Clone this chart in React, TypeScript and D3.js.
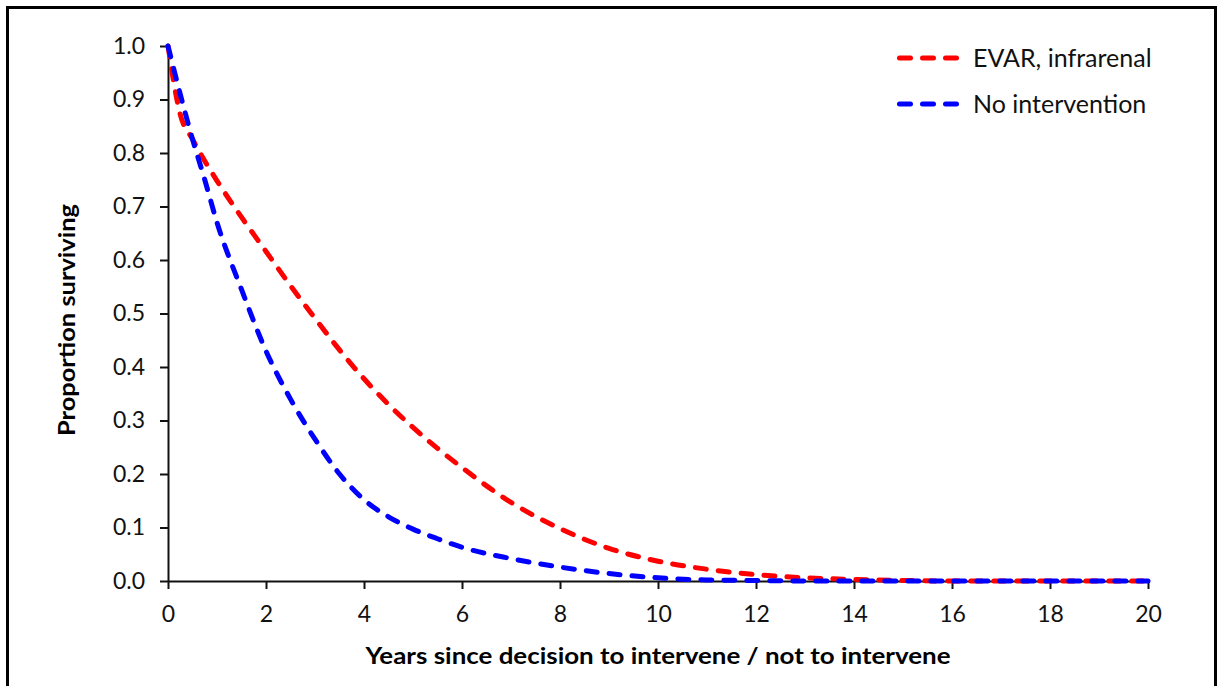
import { useEffect, useRef } from "react";
import * as d3 from "d3";

const years = [0, 0.25, 0.5, 0.75, 1, 1.5, 2, 2.5, 3, 3.5, 4, 4.5, 5, 5.5, 6, 7, 8, 9, 10, 11, 12, 13, 14, 15, 16, 17, 18, 19, 20];

const evarSurvival = [
  1.0, 0.872, 0.826, 0.785, 0.748, 0.68, 0.616, 0.552, 0.491, 0.432, 0.378, 0.33, 0.287, 0.248, 0.212,
  0.147, 0.098, 0.061, 0.037, 0.022, 0.012, 0.006, 0.003, 0.001, 0, 0, 0, 0, 0,
];

const noInterventionSurvival = [
  1.0, 0.91, 0.826, 0.75, 0.67, 0.545, 0.43, 0.34, 0.265, 0.2, 0.152, 0.12, 0.097, 0.079, 0.063,
  0.042, 0.026, 0.014, 0.006, 0.002, 0.001, 0, 0, 0, 0, 0, 0, 0, 0,
];

const seriesNames = ["EVAR, infrarenal", "No intervention"];
const seriesColors = ["#ff0000", "#0000ff"];
const yTicks = [0, 0.1, 0.2, 0.3, 0.4, 0.5, 0.6, 0.7, 0.8, 0.9, 1.0];
const xTicks = [0, 2, 4, 6, 8, 10, 12, 14, 16, 18, 20];

const FONT = "Lato, 'Open Sans', sans-serif";

export default function App() {
  const svgRef = useRef<SVGSVGElement | null>(null);

  useEffect(() => {
    const svgElement = svgRef.current;
    if (!svgElement) return;

    const width = 1219;
    const height = 686;
    const margin = { top: 46, right: 71, bottom: 105, left: 168 };

    const x = d3.scaleLinear().domain([0, 20]).range([margin.left, width - margin.right]);
    const y = d3.scaleLinear().domain([0, 1]).range([height - margin.bottom, margin.top]);

    const svg = d3.select(svgElement);
    svg.selectAll("*").remove();
    svg.attr("viewBox", `0 0 ${width} ${height}`);

    // chart frame (bottom edge sits below the visible area)
    svg
      .append("rect")
      .attr("x", 7.5)
      .attr("y", 7.5)
      .attr("width", 1208)
      .attr("height", 720)
      .attr("fill", "#fff")
      .attr("stroke", "#000")
      .attr("stroke-width", 3);

    const yAxis = svg
      .append("g")
      .attr("transform", `translate(${x(0)},0)`)
      .call(
        d3
          .axisLeft(y)
          .tickValues(yTicks)
          .tickFormat(d3.format(".1f"))
          .tickSize(8)
          .tickSizeOuter(0)
          .tickPadding(15)
      );

    const xAxis = svg
      .append("g")
      .attr("transform", `translate(0,${y(0)})`)
      .call(d3.axisBottom(x).tickValues(xTicks).tickSize(8).tickSizeOuter(0).tickPadding(17));

    [yAxis, xAxis].forEach((axis) => {
      axis.select(".domain").attr("stroke", "#111").attr("stroke-width", 2);
      axis.selectAll(".tick line").attr("stroke", "#111").attr("stroke-width", 2);
      axis
        .selectAll("text")
        .attr("font-family", FONT)
        .attr("font-size", 23)
        .attr("fill", "#111");
    });

    const seriesValues = [evarSurvival, noInterventionSurvival];
    const line = d3
      .line<number>()
      .x((_, i) => x(years[i]))
      .y((v) => y(v))
      .curve(d3.curveMonotoneX);

    seriesValues.forEach((values, i) => {
      svg
        .append("path")
        .attr("d", line(values))
        .attr("fill", "none")
        .attr("stroke", seriesColors[i])
        .attr("stroke-width", 5)
        .attr("stroke-dasharray", "11 12")
        .attr("stroke-linecap", "round");
    });

    // legend
    const legend = svg.append("g").attr("transform", "translate(899.5,58)");
    seriesNames.forEach((name, i) => {
      const row = legend.append("g").attr("transform", `translate(0,${i * 46})`);
      row
        .append("line")
        .attr("x1", 0)
        .attr("x2", 58)
        .attr("stroke", seriesColors[i])
        .attr("stroke-width", 5)
        .attr("stroke-dasharray", "11 12")
        .attr("stroke-linecap", "round");
      row
        .append("text")
        .attr("x", 73.5)
        .attr("dy", "0.36em")
        .attr("font-family", FONT)
        .attr("font-size", 25)
        .attr("fill", "#111")
        .text(name);
    });

    svg
      .append("text")
      .attr("x", (x(0) + x(20)) / 2)
      .attr("y", 664)
      .attr("text-anchor", "middle")
      .attr("font-family", FONT)
      .attr("font-weight", 700)
      .attr("font-size", 22)
      .attr("textLength", 585)
      .attr("lengthAdjust", "spacingAndGlyphs")
      .text("Years since decision to intervene  / not to intervene");

    svg
      .append("text")
      .attr("transform", "translate(75,320) rotate(-90)")
      .attr("text-anchor", "middle")
      .attr("font-family", FONT)
      .attr("font-weight", 700)
      .attr("font-size", 22)
      .attr("textLength", 232)
      .attr("lengthAdjust", "spacingAndGlyphs")
      .text("Proportion  surviving");
  }, []);

  return (
    <div style={{ position: "fixed", left: 0, top: 0, width: 1219, height: 686, background: "#fff" }}>
      <svg ref={svgRef} width={1219} height={686} role="img" aria-label="Proportion surviving" />
    </div>
  );
}
